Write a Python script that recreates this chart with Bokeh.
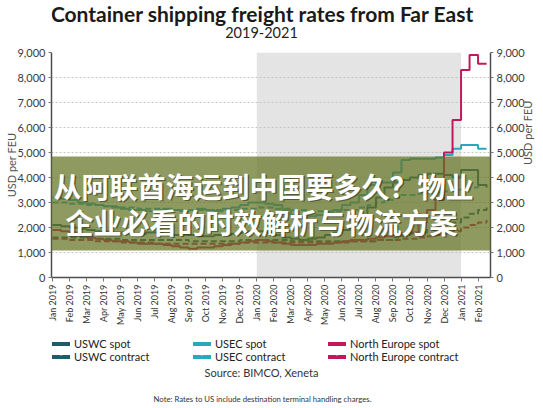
import math
from bokeh.plotting import figure
from bokeh.layouts import column
from bokeh.models import (Range1d, LinearAxis, FixedTicker, NumeralTickFormatter,
                          BoxAnnotation, Label, Legend, LegendItem)
from bokeh.embed import file_html
from bokeh.resources import INLINE

# ---------------- data ----------------
month_labels = ["Jan 2019", "Feb 2019", "Mar 2019", "Apr 2019", "May 2019", "Jun 2019",
                "Jul 2019", "Aug 2019", "Sep 2019", "Oct 2019", "Nov 2019", "Dec 2019",
                "Jan 2020", "Feb 2020", "Mar 2020", "Apr 2020", "May 2020", "Jun 2020",
                "Jul 2020", "Aug 2020", "Sep 2020", "Oct 2020", "Nov 2020", "Dec 2020",
                "Jan 2021", "Feb 2021"]
y_ticks = [0, 1000, 2000, 3000, 4000, 5000, 6000, 7000, 8000, 9000]

# semi-monthly readings (two per month), USD per FEU
uswc_spot = [2100, 2050, 2000, 1950, 1900, 1850, 1850, 1800, 1800, 1750, 1750, 1800,
             1800, 1750, 1700, 1700, 1700, 1650, 1650, 1700, 1700, 1750, 1800, 1850,
             1850, 1800, 1700, 1600, 1550, 1500, 1550, 1600, 1700, 1800, 1900, 2100,
             2500, 2800, 3200, 3600, 3800, 3900, 4000, 4100, 4150, 4150, 4100, 4000,
             4300, 4300, 3700, 3600]
uswc_contract = [1600, 1600, 1600, 1600, 1550, 1550, 1550, 1550, 1500, 1500, 1500, 1500,
                 1500, 1500, 1500, 1500, 1450, 1450, 1450, 1450, 1450, 1450, 1500, 1500,
                 1500, 1500, 1500, 1500, 1450, 1450, 1450, 1450, 1450, 1450, 1450, 1450,
                 1450, 1450, 1500, 1500, 1600, 1650, 1750, 1800, 1900, 1950, 2100, 2200,
                 2400, 2550, 2700, 2800]
usec_spot = [3200, 3150, 3100, 3000, 2950, 2900, 2850, 2800, 2750, 2700, 2700, 2650,
             2700, 2750, 2700, 2650, 2700, 2750, 2700, 2650, 2750, 2800, 2900, 3000,
             3000, 2950, 2900, 2700, 2500, 2400, 2450, 2500, 2600, 2700, 2900, 3000,
             3300, 3700, 3800, 3800, 4200, 4700, 4750, 4750, 4750, 4800, 4900, 5150,
             5300, 5300, 5150, 5150]
usec_contract = [3000, 3000, 2950, 2950, 2900, 2900, 2850, 2850, 2800, 2800, 2750, 2750,
                 2750, 2700, 2700, 2700, 2700, 2700, 2700, 2700, 2700, 2700, 2750, 2750,
                 2800, 2800, 2750, 2750, 2700, 2700, 2650, 2650, 2650, 2650, 2700, 2700,
                 2800, 2900, 3000, 3100, 3200, 3300, 3300, 3350, 3400, 3400, 3450, 3500,
                 3550, 3600, 3700, 3700]
ne_spot = [1900, 1850, 1800, 1700, 1600, 1550, 1500, 1450, 1450, 1400, 1350, 1350,
           1350, 1300, 1250, 1200, 1150, 1200, 1200, 1250, 1300, 1350, 1400, 1450,
           1500, 1450, 1400, 1350, 1300, 1300, 1300, 1350, 1350, 1400, 1450, 1500,
           1500, 1550, 1600, 1650, 1700, 1750, 1800, 2200, 2700, 3100, 5000, 6300,
           8300, 8900, 8550, 8550]
ne_contract = [1550, 1550, 1500, 1500, 1500, 1450, 1450, 1450, 1400, 1400, 1400, 1400,
               1350, 1350, 1350, 1350, 1350, 1350, 1350, 1350, 1350, 1350, 1400, 1400,
               1400, 1400, 1400, 1400, 1400, 1400, 1400, 1400, 1400, 1400, 1400, 1450,
               1450, 1450, 1500, 1500, 1500, 1550, 1550, 1600, 1650, 1700, 1750, 1850,
               2000, 2100, 2200, 2300]

# x position of each reading, in months since Jan 2019
periods = [i / 2 for i in range(len(uswc_spot))]

C_USWC = "#1f5c6b"
C_USEC = "#2ba6bf"
C_NE = "#c2185b"
FONT = "Lato"
CJK = "Noto Sans CJK SC"
W = 543
BL, BR = 51, 51   # left / right borders shared by all three panels

series = [
    ("USWC spot", uswc_spot, C_USWC, "solid"),
    ("USWC contract", uswc_contract, C_USWC, "6 3"),
    ("USEC spot", usec_spot, C_USEC, "solid"),
    ("USEC contract", usec_contract, C_USEC, "6 3"),
    ("North Europe spot", ne_spot, C_NE, "solid"),
    ("North Europe contract", ne_contract, C_NE, "6 3"),
]


def blank_fig(h):
    f = figure(width=W, height=h, output_backend="svg", toolbar_location=None,
               x_range=Range1d(0, 1), y_range=Range1d(0, 1),
               x_axis_location=None, y_axis_location=None,
               min_border_left=BL, min_border_right=BR,
               min_border_top=0, min_border_bottom=0)
    f.outline_line_color = None
    f.grid.visible = False
    f.background_fill_color = "white"
    f.border_fill_color = "white"
    return f


def add_label(fig, text, x, y, size, color="#222222", style="normal", angle=0.0,
              font=FONT, align="center", alpha=1.0, level="annotation"):
    fig.add_layout(Label(x=x, y=y, x_units="screen", y_units="screen", text=text,
                         text_font=font, text_font_size=f"{size}px",
                         text_color=color, text_font_style=style, angle=angle,
                         text_align=align, text_baseline="middle", level=level,
                         text_alpha=alpha))


# ---------------- header ----------------
top = blank_fig(44)
add_label(top, "Container shipping freight rates from Far East", 211, 31, 21,
          color="#1a1a1a", style="bold")
add_label(top, "2019-2021", 210, 12, 14.5, color="#222222")

# ---------------- main chart ----------------
p = figure(width=W, height=290, output_backend="svg", toolbar_location=None,
           x_range=Range1d(-0.06, 25.73), y_range=Range1d(0, 9000),
           min_border_left=BL, min_border_right=BR, min_border_top=8,
           min_border_bottom=57)
p.outline_line_color = None
p.background_fill_color = "white"
p.border_fill_color = "white"

p.add_layout(BoxAnnotation(left=month_labels.index("Jan 2020"),
                           right=month_labels.index("Jan 2021"),
                           fill_color="#e4e4e4", fill_alpha=1.0, line_color=None,
                           level="image"))

p.xgrid.visible = False
p.ygrid.ticker = FixedTicker(ticks=y_ticks)
p.ygrid.grid_line_color = "#c4c4c4"
p.ygrid.grid_line_dash = "2 2"
p.ygrid.grid_line_width = 1

xa = p.xaxis[0]
xa.ticker = FixedTicker(ticks=list(range(len(month_labels))))
xa.major_label_overrides = {i: lab for i, lab in enumerate(month_labels)}
xa.major_label_orientation = math.pi / 2
xa.major_label_text_font = FONT
xa.major_label_text_font_size = "9px"
xa.major_label_text_color = "#333333"
xa.major_tick_in = 0
xa.major_tick_out = 4
xa.minor_tick_line_color = None
xa.major_label_standoff = 3
xa.axis_line_color = "#4d4d4d"
xa.axis_line_width = 1.5
xa.major_tick_line_color = "#777777"

ra = LinearAxis()
p.add_layout(ra, "right")
for ax, st in ((p.yaxis[0], -4), (ra, 0)):
    ax.ticker = FixedTicker(ticks=y_ticks)
    ax.formatter = NumeralTickFormatter(format="0,0")
    ax.major_label_text_font = FONT
    ax.major_label_text_font_size = "11px"
    ax.major_label_text_color = "#3a3a3a"
    ax.major_tick_in = 0
    ax.major_tick_out = 3
    ax.minor_tick_line_color = None
    ax.major_label_standoff = 3
    ax.axis_line_color = "#4d4d4d"
    ax.axis_line_width = 1.5
    ax.major_tick_line_color = "#777777"
    ax.axis_label = "USD per FEU"
    ax.axis_label_text_font = FONT
    ax.axis_label_text_font_size = "11px"
    ax.axis_label_text_font_style = "normal"
    ax.axis_label_text_color = "#555555"
    ax.axis_label_standoff = st
ra.axis_label_orientation = math.pi / 2

for k in [1, 3, 5, 0, 2, 4]:
    name, vals, col, dash = series[k]
    p.step(x=periods, y=vals, mode="after", line_color=col, line_width=2,
           line_dash=dash)

# overlay banner
p.add_layout(BoxAnnotation(left=-60, right=500, top=121, bottom=27,
                           left_units="screen", right_units="screen",
                           top_units="screen", bottom_units="screen",
                           fill_color="#647322", fill_alpha=0.72, line_color=None,
                           level="overlay"))
for txt, lx, cy in (("从阿联酋海运到中国要多久？物业", 2, 92),
                    ("企业必看的时效解析与物流方案", 14, 56)):
    add_label(p, txt, lx + 1.5, cy - 1.5, 28, color="#2a2a1a", style="bold",
              font=CJK, alpha=0.55, level="overlay", align="left")
    add_label(p, txt, lx, cy, 28, color="#ffffff", style="bold", font=CJK,
              level="overlay", align="left")

# ---------------- footer: legend + source ----------------
bot = blank_fig(74)
leg_x = [1, 142, 277]
for c in range(3):
    items = []
    for k in (2 * c, 2 * c + 1):
        name, vals, col, dash = series[k]
        r = bot.line(x=[math.nan], y=[math.nan], line_color=col, line_width=4,
                     line_cap="round",
                     line_dash=("7 3" if dash != "solid" else "solid"))
        items.append(LegendItem(label=name, renderers=[r]))
    bot.add_layout(Legend(items=items, location=(leg_x[c], 45), orientation="vertical",
                          padding=0, margin=0, spacing=0, glyph_height=9,
                          glyph_width=18, label_height=9, label_standoff=4,
                          label_text_font=FONT, label_text_font_size="11px",
                          label_text_line_height=0.75,
                          label_text_color="#222222", background_fill_alpha=0,
                          border_line_color=None))
add_label(bot, "Source: BIMCO, Xeneta", 210, 36, 11, color="#333333")
add_label(bot, "Note: Rates to US include destination terminal handling charges.",
          211, 10, 7.75, color="#333333")

layout = column(top, p, bot, spacing=0)
open("out.html", "w").write(file_html(layout, INLINE))
